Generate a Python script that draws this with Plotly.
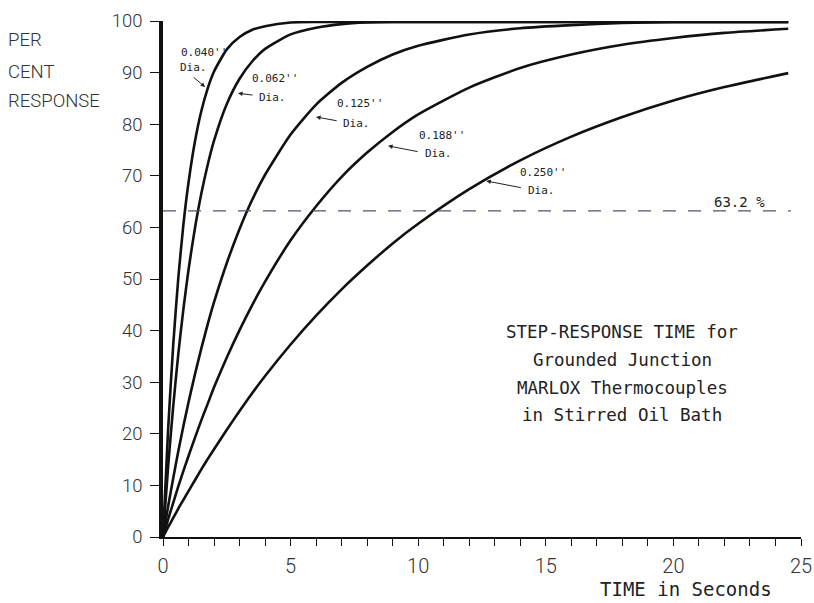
import plotly.graph_objects as go

# Time (seconds) at which the curves were read
time_s = [0, 0.2, 0.4, 0.6, 0.8, 1.0, 1.25, 1.5, 1.75, 2.0, 2.5, 3, 3.5, 4,
          5, 6, 7, 8, 9, 10, 12, 14, 16, 18, 20, 22, 24.5]

# Per cent response
dia_040 = [0, 20.8, 37.2, 50.2, 60.6, 68.7, 76.6, 82.5, 86.9, 90.2, 94.5, 96.9, 98.3, 99.0,
           99.7, 99.8, 99.8, 99.8, 99.8, 99.8, 99.8, 99.8, 99.8, 99.8, 99.8, 99.8, 99.8]
dia_062 = [0, 13.6, 25.3, 35.5, 44.2, 51.8, 59.8, 66.5, 72.1, 76.8, 83.9, 88.8, 92.2, 94.6,
           97.4, 98.7, 99.4, 99.7, 99.8, 99.8, 99.8, 99.8, 99.8, 99.8, 99.8, 99.8, 99.8]
dia_125 = [0, 5.9, 11.4, 16.6, 21.5, 26.1, 31.5, 36.5, 41.2, 45.5, 53.1, 59.7, 65.4, 70.2,
           78.0, 83.8, 88.0, 91.1, 93.5, 95.2, 97.4, 98.6, 99.2, 99.6, 99.8, 99.8, 99.8]
dia_188 = [0, 3.4, 6.6, 9.8, 12.8, 15.7, 19.2, 22.6, 25.8, 29.0, 34.8, 40.1, 45.0, 49.5,
           57.5, 64.1, 69.8, 74.5, 78.5, 81.9, 87.1, 90.9, 93.5, 95.4, 96.7, 97.7, 98.5]
dia_250 = [0, 1.9, 3.7, 5.5, 7.2, 8.9, 11.0, 13.1, 15.1, 17.0, 20.8, 24.4, 27.9, 31.2,
           37.3, 42.9, 48.0, 52.6, 56.9, 60.7, 67.4, 73.0, 77.6, 81.4, 84.6, 87.2, 89.9]

series = [("0.040''", dia_040), ("0.062''", dia_062), ("0.125''", dia_125),
          ("0.188''", dia_188), ("0.250''", dia_250)]

ref_level = 63.2
ref_x = [0, 24.6]

fig = go.Figure()
for name, ys in series:
    fig.add_trace(go.Scatter(x=time_s, y=ys, mode="lines", name=name,
                             line=dict(color="#111111", width=2.6, shape="spline", smoothing=0.6),
                             hoverinfo="skip"))

fig.add_trace(go.Scatter(x=ref_x, y=[ref_level, ref_level], mode="lines",
                         line=dict(color="#4a5670", width=1.2, dash="13px,12px"),
                         hoverinfo="skip"))

mono = "DejaVu Sans Mono"
thin = "Roboto"
ann = []

# curve labels: (text line1 pos, line2 pos, arrow head, arrow tail offset)
labels = [
    ("0.040''", (0.62, 93.9), (0.59, 91.0), (1.65, 87.2), (-13, -11)),
    ("0.062''", (3.41, 88.9), (3.69, 85.2), (2.94, 86.0), (16, 2)),
    ("0.125''", (6.75, 84.1), (6.98, 80.2), (6.0, 81.4), (22, 4)),
    ("0.188''", (9.96, 77.9), (10.2, 74.4), (8.82, 75.8), (31, 6)),
    ("0.250''", (13.92, 70.7), (14.24, 67.2), (12.67, 69.0), (36, 7)),
]
for txt, p1, p2, head, off in labels:
    ann.append(dict(x=p1[0], y=p1[1], text=txt, showarrow=False, xanchor="left",
                    yanchor="middle", font=dict(family=mono, size=11, color="#222")))
    ann.append(dict(x=p2[0], y=p2[1], text="Dia.", showarrow=False, xanchor="left",
                    yanchor="middle", font=dict(family=mono, size=11, color="#222")))
    ann.append(dict(x=head[0], y=head[1], text="", showarrow=True, ax=off[0], ay=off[1],
                    arrowhead=2, arrowsize=0.9, arrowwidth=1, arrowcolor="#222"))

ann.append(dict(x=21.53, y=64.9, text="63.2 %", showarrow=False, xanchor="left",
                yanchor="middle", font=dict(family=mono, size=14, color="#222")))

block = ["STEP-RESPONSE TIME for", "Grounded Junction",
         "MARLOX Thermocouples", "in Stirred Oil Bath"]
block_y = [39.7, 34.3, 28.9, 23.7]
for t, yy in zip(block, block_y):
    ann.append(dict(x=18.0, y=yy, text=t, showarrow=False, xanchor="center",
                    yanchor="middle", font=dict(family=mono, size=17.5, color="#222")))

ann.append(dict(x=20.49, y=-0.1, yref="paper", text="TIME in Seconds", showarrow=False,
                xanchor="center", yanchor="middle",
                font=dict(family=mono, size=19, color="#222")))

for t, yy in zip(["PER", "CENT", "RESPONSE"], [96.3, 90.2, 84.5]):
    ann.append(dict(x=-0.246, xref="paper", y=yy, text=t, showarrow=False,
                    xanchor="left", yanchor="middle",
                    font=dict(family=thin, size=18.5, color="#333", weight=300)))

fig.update_layout(
    width=814, height=603,
    margin=dict(l=163, r=13, t=21, b=66, autoexpand=False),
    paper_bgcolor="white", plot_bgcolor="white",
    showlegend=False,
    annotations=ann,
    xaxis=dict(range=[0, 25], dtick=5, tick0=0, showgrid=False, zeroline=False,
               automargin=False,
               showline=True, linecolor="#111", linewidth=2,
               ticks="outside", ticklen=7, tickwidth=1.3, tickcolor="#111",
               minor=dict(dtick=1, ticks="outside", ticklen=7, tickwidth=1.3, tickcolor="#111"),
               ticklabelstandoff=3,
               tickfont=dict(family=thin, size=20, color="#333", weight=300)),
    yaxis=dict(range=[0, 100], dtick=10, tick0=0, showgrid=False, zeroline=False,
               automargin=False,
               showline=True, linecolor="#111", linewidth=3.5,
               ticks="outside", ticklen=9, tickwidth=1.3, tickcolor="#111",
               ticklabelstandoff=4,
               tickfont=dict(family=thin, size=18.5, color="#333", weight=300)),
)

fig.write_html("out.html", config={"displayModeBar": False},
               post_script="document.body.style.margin='0px';document.body.style.overflow='hidden';")
